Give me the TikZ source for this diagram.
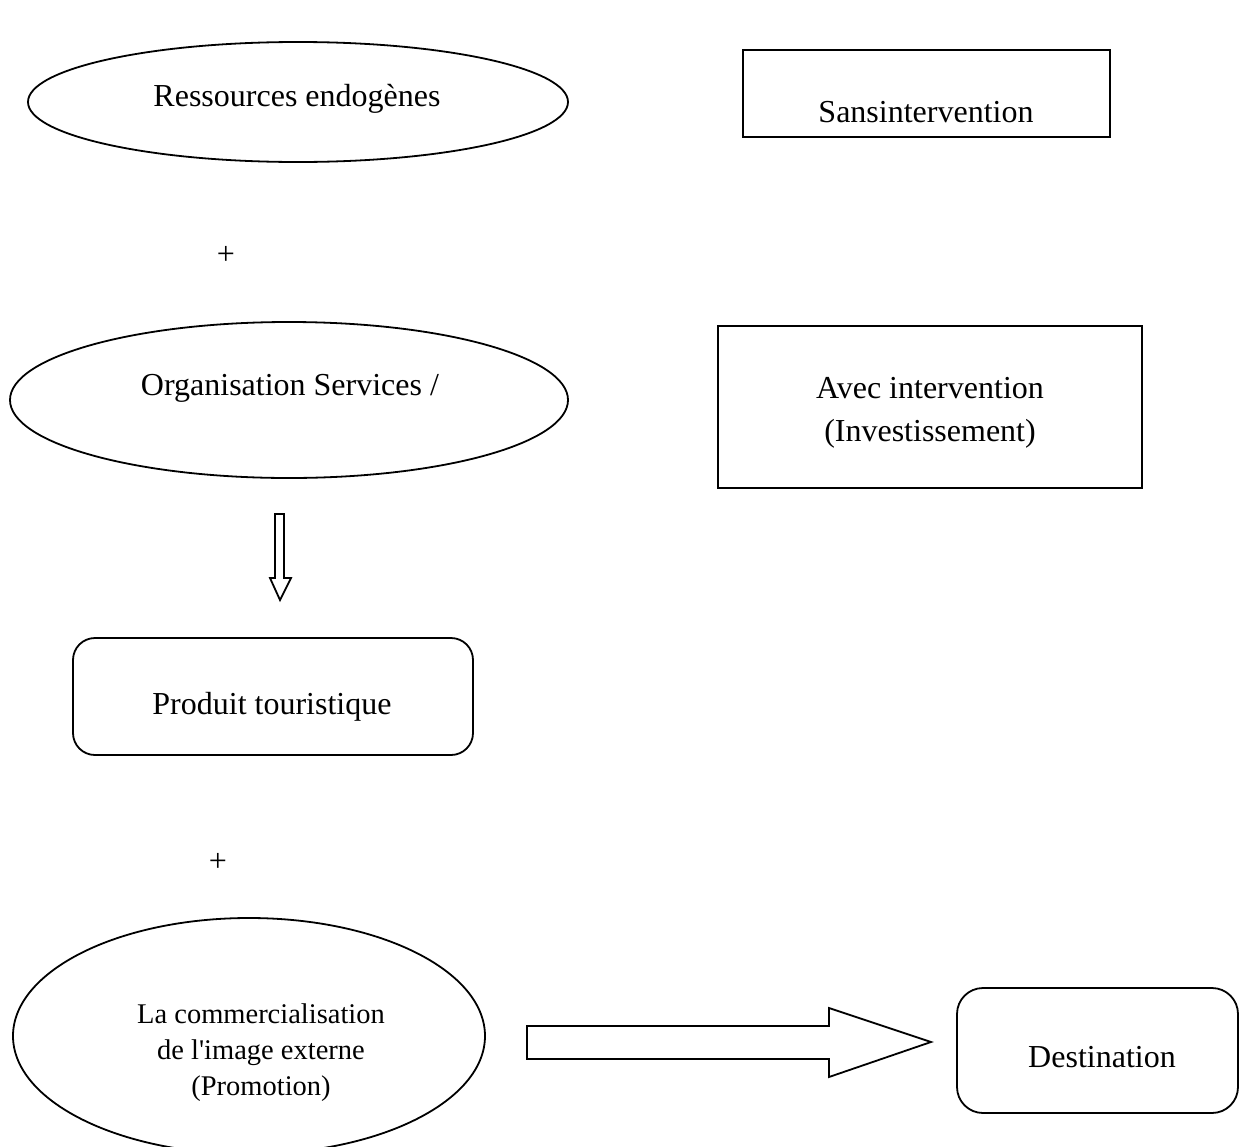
\documentclass[tikz,border=0pt]{standalone}
\usepackage{fontspec}
\setmainfont[Ligatures=TeXOff]{Liberation Serif}
\usetikzlibrary{shapes.geometric}
\begin{document}
\begin{tikzpicture}[x=1pt,y=-1pt,
  every node/.style={font=\fontsize{32}{38}\selectfont},
  outline/.style={draw=black,line width=1.8pt},
  oval/.style={outline,ellipse,inner sep=0pt},
  plainbox/.style={outline,rectangle,inner sep=0pt},
  roundbox/.style={outline,rectangle,rounded corners=22pt,inner sep=0pt},
  txt/.style={inner sep=0pt,align=center},
  blockarrow/.style={outline,fill=white,line join=miter}]
  \useasboundingbox (0,0) rectangle (1239,1146);

  % left column: ellipses and the product box
  \node[oval,minimum width=540pt,minimum height=120pt] (res) at (298,102) {};
  \node[txt] (restxt) at (297,99) {Ressources endogènes};

  \node[txt] (plus1) at (226,255) {+};

  \node[oval,minimum width=558pt,minimum height=156pt] (org) at (289,400) {};
  \node[txt] (orgtxt) at (290,388) {Organisation Services /};

  \node[roundbox,minimum width=400pt,minimum height=117pt] (prod) at (273,696.5) {};
  \node[txt] (prodtxt) at (272,707) {Produit touristique};

  \node[txt] (plus2) at (218,862) {+};

  \node[oval,minimum width=472pt,minimum height=236pt] (com) at (249,1036) {};
  \node[txt,font=\fontsize{28.5}{36}\selectfont] (comtxt) at (261,1053)
    {La commercialisation\\de l'image externe\\(Promotion)};

  % right column: the two kinds of intervention
  \node[plainbox,minimum width=367pt,minimum height=87pt] (sans) at (926.5,93.5) {};
  \node[txt] (sanstxt) at (926,112) {Sansintervention};

  \node[plainbox,minimum width=424pt,minimum height=162pt] (avec) at (930,407) {};
  \node[txt] (avec1) at (930,388) {Avec intervention};
  \node[txt] (avec2) at (930,434) {(Investissement)};

  % destination
  \node[roundbox,minimum width=281pt,minimum height=125pt,rounded corners=26pt] (dest) at (1097.5,1050.5) {};
  \node[txt] (desttxt) at (1102,1057) {Destination};

  % hollow block arrows
  \draw[blockarrow] (275,514) -- (284,514) -- (284,578) -- (291,578)
    -- (280,600) -- (270,578) -- (275,578) -- cycle;
  \draw[blockarrow] (527,1026) -- (829,1026) -- (829,1008) -- (931,1042)
    -- (829,1077) -- (829,1059) -- (527,1059) -- cycle;
\end{tikzpicture}
\end{document}
